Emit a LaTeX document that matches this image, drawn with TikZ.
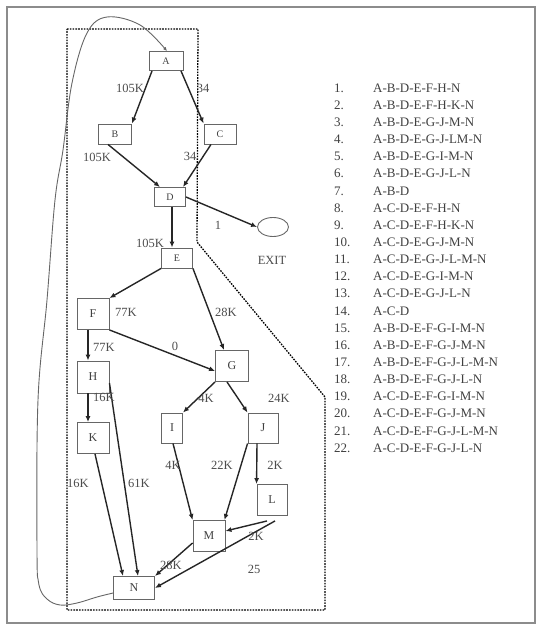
\documentclass[tikz,border=0pt]{standalone}
\usepackage{fontspec}
\setmainfont{Liberation Serif}
\usetikzlibrary{arrows.meta,shapes.geometric}
\begin{document}
\begin{tikzpicture}[x=1pt,y=-1pt,
  box/.style={draw=black!60,line width=0.9pt,inner sep=0pt,font=\fontsize{12}{12}\selectfont,text=black!75},
  sbox/.style={box,font=\fontsize{10}{10}\selectfont},
  arr/.style={draw=black!85,line width=1.4pt,-{Latex[length=6pt,width=5pt]}},
  lab/.style={font=\fontsize{12.5}{12.5}\selectfont,text=black!70,inner sep=0pt},
  lst/.style={font=\fontsize{13}{13}\selectfont,text=black!75,inner sep=0pt,anchor=west},
  region/.style={draw=black,line width=1.3pt,dash pattern=on 1.6pt off 1.2pt},
  loopline/.style={draw=black!60,line width=0.9pt,-{Latex[length=4pt,width=3.5pt]}}]
\useasboundingbox (0,0) rectangle (544,628);
% outer frame
\draw[black!45,line width=1.6pt] (7,7) rectangle (535,623);
% dashed region
\draw[region] (67,29) -- (198,29) -- (197,242) -- (325,397) -- (325,610) -- (67,610) -- cycle;
% nodes
\node[sbox,minimum width=34pt,minimum height=19pt] (A) at (166,61) {A};
\node[sbox,minimum width=33pt,minimum height=20pt] (B) at (115,134) {B};
\node[sbox,minimum width=32pt,minimum height=20pt] (C) at (220,134) {C};
\node[sbox,minimum width=31pt,minimum height=19pt] (D) at (170,197) {D};
\node[sbox,minimum width=31pt,minimum height=20pt] (E) at (177,258) {E};
\node[box,minimum width=32pt,minimum height=31pt] (F) at (93,314) {F};
\node[box,minimum width=33pt,minimum height=31pt] (G) at (232,366) {G};
\node[box,minimum width=32pt,minimum height=32pt] (H) at (93,377) {H};
\node[box,minimum width=32pt,minimum height=31pt] (K) at (93,438) {K};
\node[box,minimum width=21pt,minimum height=30pt] (I) at (172,428) {I};
\node[box,minimum width=30pt,minimum height=30pt] (J) at (263,428) {J};
\node[box,minimum width=30pt,minimum height=31pt] (L) at (272,500) {L};
\node[box,minimum width=32pt,minimum height=31pt] (M) at (209,536) {M};
\node[box,minimum width=41pt,minimum height=23pt] (N) at (134,588) {N};
\node[draw=black!60,line width=0.9pt,ellipse,minimum width=31pt,minimum height=19pt,inner sep=0pt] (EXIT) at (273,227) {};
\node[lab] (exitlab) at (272,260) {EXIT};
% edges
\draw[arr] ([xshift=-14pt]A.south) -- (B.north east);
\draw[arr] ([xshift=15pt]A.south) -- (C.north west);
\draw[arr] ([xshift=-7pt]B.south) -- ([xshift=-10pt]D.north);
\draw[arr] ([xshift=-9pt]C.south) -- ([xshift=13pt]D.north);
\draw[arr] (D.east) -- (EXIT.west);
\draw[arr] ([xshift=2pt]D.south) -- ([xshift=-5pt]E.north);
\draw[arr] (E.south west) -- (F.north east);
\draw[arr] (E.south east) -- ([xshift=-8pt]G.north);
\draw[arr] ([xshift=-5pt]F.south) -- ([xshift=-5pt]H.north);
\draw[arr] (F.south east) -- ([yshift=-5pt]G.west);
\draw[arr] (G.south west) -- (I.north east);
\draw[arr] ([xshift=-5pt]G.south) -- (J.north west);
\draw[arr] ([xshift=-5pt]H.south) -- ([xshift=-5pt]K.north);
\draw[arr] ([yshift=-6pt]H.east) -- ([xshift=4pt]N.north);
\draw[arr] ([xshift=2pt]K.south) -- ([xshift=-11pt]N.north);
\draw[arr] ([xshift=1pt]I.south) -- (M.north west);
\draw[arr] (J.south west) -- ([xshift=-1pt]M.north east);
\draw[arr] ([xshift=-6pt]J.south) -- (L.north west);
\draw[arr] ([xshift=-5pt,yshift=-5pt]L.south) -- ([yshift=5pt]M.east);
\draw[arr] ([xshift=3pt,yshift=-5pt]L.south) -- (N.east);
\draw[arr] ([yshift=-7pt]M.west) -- (N.north east);
% loop back
\draw[loopline] plot[smooth,tension=0.6] coordinates {([yshift=-5pt]N.west) (97,597) (77,603) (60,605) (47,599) (39,585) (37,550) (38,400) (47,300) (55,200) (63,150) (72,83) (87,33) (107,17) (140,25) ([xshift=1pt]A.north)};
% edge labels
\node[lab] (l1) at (130,88) {105K};
\node[lab] (l2) at (203,88) {34};
\node[lab] (l3) at (97,157) {105K};
\node[lab] (l4) at (190,156) {34};
\node[lab] (l5) at (218,225) {1};
\node[lab] (l6) at (150,243) {105K};
\node[lab] (l7) at (126,312) {77K};
\node[lab] (l8) at (226,312) {28K};
\node[lab] (l9) at (104,347) {77K};
\node[lab] (l10) at (175,346) {0};
\node[lab] (l11) at (104,397) {16K};
\node[lab] (l12) at (206,398) {4K};
\node[lab] (l13) at (279,398) {24K};
\node[lab] (l14) at (78,483) {16K};
\node[lab] (l15) at (139,483) {61K};
\node[lab] (l16) at (173,465) {4K};
\node[lab] (l17) at (222,465) {22K};
\node[lab] (l18) at (275,465) {2K};
\node[lab] (l19) at (256,536) {2K};
\node[lab] (l20) at (171,565) {28K};
\node[lab] (l21) at (254,569) {25};
% path list
\foreach \n/\p [count=\i from 0] in {1/A-B-D-E-F-H-N,2/A-B-D-E-F-H-K-N,3/A-B-D-E-G-J-M-N,4/A-B-D-E-G-J-LM-N,5/A-B-D-E-G-I-M-N,6/A-B-D-E-G-J-L-N,7/A-B-D,8/A-C-D-E-F-H-N,9/A-C-D-E-F-H-K-N,10/A-C-D-E-G-J-M-N,11/A-C-D-E-G-J-L-M-N,12/A-C-D-E-G-I-M-N,13/A-C-D-E-G-J-L-N,14/A-C-D,15/A-B-D-E-F-G-I-M-N,16/A-B-D-E-F-G-J-M-N,17/A-B-D-E-F-G-J-L-M-N,18/A-B-D-E-F-G-J-L-N,19/A-C-D-E-F-G-I-M-N,20/A-C-D-E-F-G-J-M-N,21/A-C-D-E-F-G-J-L-M-N,22/A-C-D-E-F-G-J-L-N}{
  \node[lst] (num\n) at (334,{88+\i*17.14}) {\n.};
  \node[lst] (path\n) at (373,{88+\i*17.14}) {\p};
}
\end{tikzpicture}
\end{document}
